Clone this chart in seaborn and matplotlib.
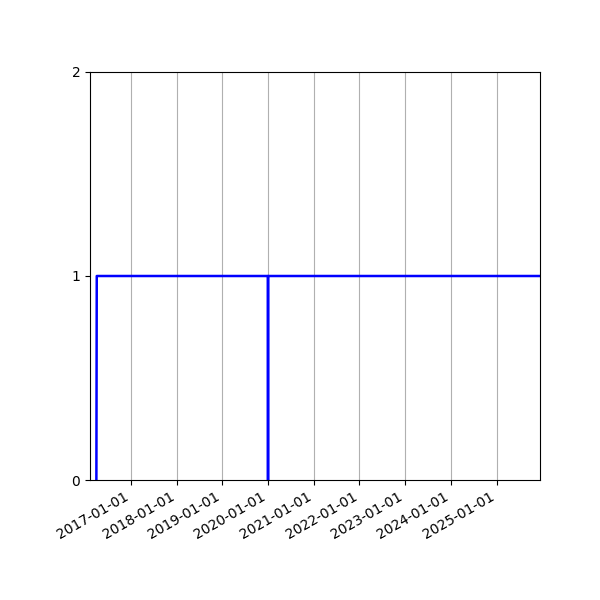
import pandas as pd
import matplotlib
matplotlib.use('Agg')
import matplotlib.pyplot as plt
import matplotlib.dates as mdates
import seaborn as sns

# punkty serii (data, wartosc)
daty = ['2016-03-30', '2016-04-02', '2019-12-31', '2020-01-01', '2020-01-02', '2026-06-01']
wartosci = [0, 1, 1, 0, 1, 1]

zakres_x = ('2016-02-08', '2025-12-14')
ticki_y = [0, 1, 2]

df = pd.DataFrame({'data': pd.to_datetime(daty), 'wartosc': wartosci})

fig = plt.figure(figsize=(6, 6), dpi=100)
ax = fig.add_axes([0.15, 0.2, 0.75, 0.68])

sns.lineplot(data=df, x='data', y='wartosc', color='blue', linewidth=1.8, ax=ax, sort=False)

ax.set_xlim(pd.to_datetime(zakres_x[0]), pd.to_datetime(zakres_x[1]))
ax.set_ylim(0, 2)
ax.set_yticks(ticki_y)
ax.xaxis.set_major_locator(mdates.YearLocator())
ax.xaxis.set_major_formatter(mdates.DateFormatter('%Y-%m-%d'))
ax.grid(True, axis='x', color='#b0b0b0', linewidth=0.8)
ax.set_axisbelow(True)
ax.set_xlabel('')
ax.set_ylabel('')
for lab in ax.get_xticklabels():
    lab.set_rotation(30)
    lab.set_ha('right')

fig.savefig('out.png', dpi=100)
